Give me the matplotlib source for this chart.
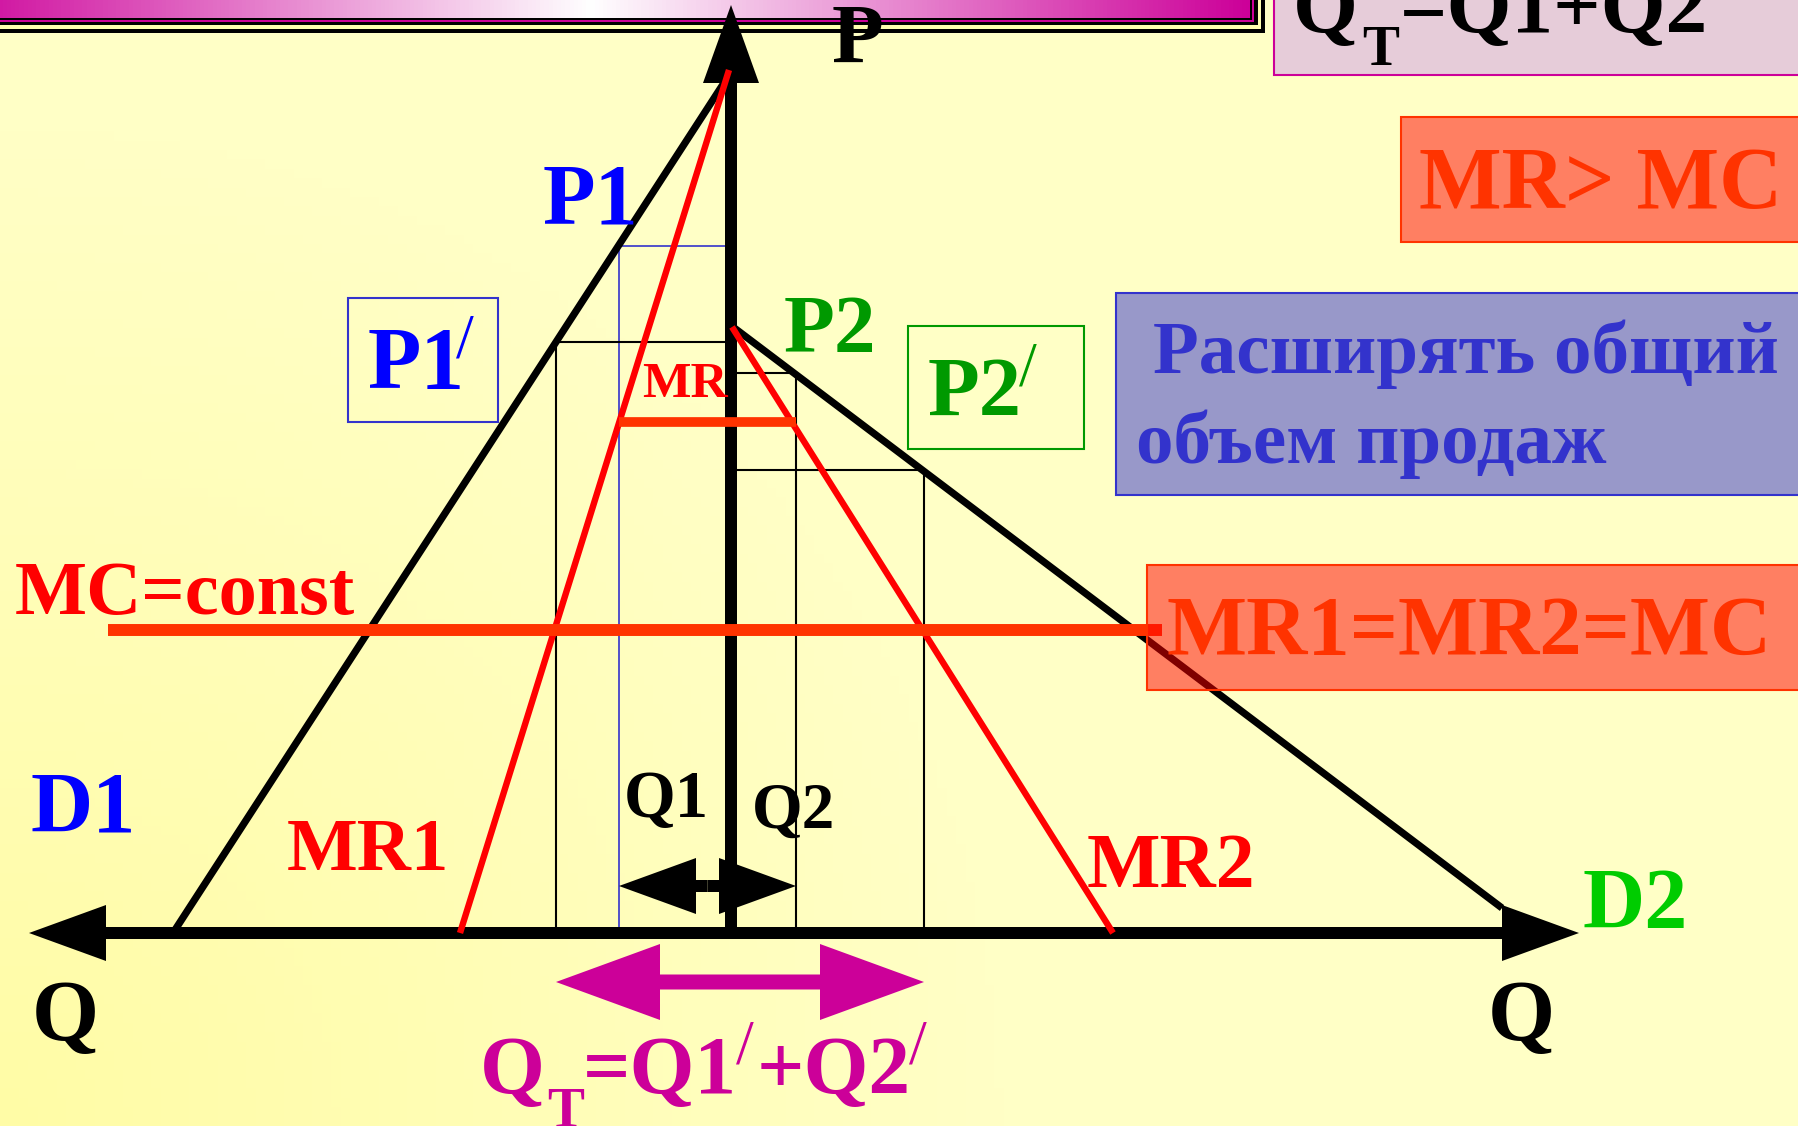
import numpy as np
import matplotlib
matplotlib.use("Agg")
import matplotlib.pyplot as plt
from matplotlib.patches import Rectangle, FancyArrow
from matplotlib.colors import to_rgb

plt.rcParams["font.family"] = ["Liberation Serif", "DejaVu Serif"]

# slide size in pixels, origin of the P/Q cross and pixels per diagram unit
W, H = 1799, 1126
X0, Y0, S = 731, 933, 10.0

# market 1 is drawn to the left of the price axis, market 2 to the right
d1_q = [-55.8, 0.0]
d1_p = [0.0, 86.1]
mr1_q = [-27.1, -0.2]
mr1_p = [0.0, 86.3]
d2_q = [0.2, 77.1]
d2_p = [60.6, 2.5]
mr2_q = [0.1, 38.2]
mr2_p = [60.6, 0.0]

mc_level = 30.3
mc_span = [-62.3, 43.1]

# starting point (Q1, Q2) and the point where MR1 = MR2 = MC
q1, p1 = -11.2, 68.7
q2, p2 = 6.5, 56.0
q1_new, p1_new = -17.5, 59.1
q2_new, p2_new = 19.3, 46.3
mr_level = 51.1

q_axis = [-70.2, 84.8]
p_axis_top = 92.8

BLUE = "#0000FF"
BLUE2 = "#3333CC"
GREEN = "#009900"
GREEN2 = "#00CC00"
RED = "#FF0000"
ORANGE = "#FF3300"
MAGENTA = "#CC0099"


def px(x, y):
    return (x - X0) / S, (Y0 - y) / S


def box(x0, y0, x1, y1, **kw):
    ax.add_patch(Rectangle(px(x0, y1), (x1 - x0) / S, (y1 - y0) / S, **kw))


def label(x, y, s, size, color, weight="bold", z=6):
    ax.text(*px(x, y), s, fontsize=size, color=color, fontweight=weight,
            ha="left", va="baseline", zorder=z)


def arrow(x, y, dx, dy, width, hw, hl, color, z=4):
    ax.add_patch(FancyArrow(x, y, dx, dy, width=width, head_width=hw,
                            head_length=hl, length_includes_head=True,
                            color=color, lw=0, zorder=z))


fig = plt.figure(figsize=(W / 100, H / 100), dpi=100)
ax = fig.add_axes([0, 0, 1, 1])
xl = (-X0 / S, (W - X0) / S)
yl = (-(H - Y0) / S, Y0 / S)
ax.set_xlim(*xl)
ax.set_ylim(*yl)
ax.axis("off")

# pale yellow background, a bit deeper towards the lower left corner
gy, gx = np.mgrid[0:1:120j, 0:1:190j]
t = np.clip(np.hypot(gx * W, (1 - gy) * H) / 1000, 0, 1)[..., None]
bg = np.array(to_rgb("#FFFCA6")) * (1 - t) + np.array(to_rgb("#FFFFC6")) * t
ax.imshow(bg, extent=(*xl, *yl), origin="upper", aspect="auto", zorder=0)

# title bar with its framed edge
for x1, y1, c in [(1265, 33, "black"), (1261, 29, "#FFFFB0"), (1258, 25, "black"),
                  (1254, 22, MAGENTA), (1252, 20, "black")]:
    box(-10, -10, x1, y1, facecolor=c, lw=0, zorder=1)
gxs = np.linspace(0, 1250, 300)
tt = np.clip(np.abs(gxs - 596) / 654, 0, 1)[None, :, None]
bar = np.array([1, 1, 1]) * (1 - tt) + np.array(to_rgb(MAGENTA)) * tt
l, top = px(-10, -10)
r, b = px(1250, 18)
ax.imshow(bar, extent=(l, r, b, top), aspect="auto", zorder=1.5)

# guide lines for the old and new quantities
ax.plot([q1, q1, 0], [0, p1, p1], color=BLUE2, lw=1.2, zorder=2)
for q, p in [(q1_new, p1_new), (q2, p2), (q2_new, p2_new)]:
    ax.plot([q, q, 0], [0, p, p], color="black", lw=1.5, zorder=2)

# axes
arrow(0, 0, q_axis[0], 0, 1.2, 5.6, 7.7, "black")
arrow(0, 0, q_axis[1], 0, 1.2, 5.6, 7.7, "black")
arrow(0, 0, 0, p_axis_top, 1.2, 5.6, 7.8, "black")

# demand and marginal revenue
ax.plot(d1_q, d1_p, color="black", lw=5.2, solid_capstyle="butt", zorder=4.5)
ax.plot(d2_q, d2_p, color="black", lw=5.2, solid_capstyle="butt", zorder=4.5)
ax.plot(mr1_q, mr1_p, color=RED, lw=4.6, solid_capstyle="butt", zorder=5)
ax.plot(mr2_q, mr2_p, color=RED, lw=4.6, solid_capstyle="butt", zorder=5)
ax.plot(mc_span, [mc_level, mc_level], color=ORANGE, lw=8.6,
        solid_capstyle="butt", zorder=5)
ax.plot([q1, q2], [mr_level, mr_level], color=ORANGE, lw=7,
        solid_capstyle="butt", zorder=5)

# quantity spans
mid = (q1 + q2) / 2
arrow(mid, 4.7, q1 - mid, 0, 1.2, 5.6, 7.7, "black")
arrow(mid, 4.7, q2 - mid, 0, 1.2, 5.6, 7.7, "black")
mid = (q1_new + q2_new) / 2
arrow(mid, -4.9, q1_new - mid, 0, 1.5, 7.6, 10.4, MAGENTA)
arrow(mid, -4.9, q2_new - mid, 0, 1.5, 7.6, 10.4, MAGENTA)

# boxes on the right
box(1274, -10, 1810, 75, facecolor="#E6CCD9", edgecolor=MAGENTA, lw=1.5, zorder=3)
box(1401, 117, 1810, 242, facecolor=(1, 0, 0, 0.5), edgecolor=ORANGE, lw=1.5, zorder=3)
box(1116, 293, 1810, 495, facecolor=(0.2, 0.2, 0.8, 0.5), edgecolor=BLUE2, lw=1.5, zorder=3)
box(1147, 565, 1810, 690, facecolor=(1, 0, 0, 0.5), edgecolor=ORANGE, lw=1.5, zorder=5.5)
box(348, 298, 498, 422, facecolor="none", edgecolor=BLUE2, lw=1.5, zorder=3)
box(908, 326, 1084, 449, facecolor="none", edgecolor=GREEN, lw=1.5, zorder=3)

# labels
label(1293, 32, "Q", 60, "black")
label(1362, 65, "T", 40, "black")
label(1400, 32, "=Q1+Q2", 60, "black")
label(1419, 208, "MR> MC", 63, ORANGE)
label(1153, 373, "Расширять общий", 54, BLUE2)
label(1136, 463, "объем продаж", 54, BLUE2)
label(1167, 655, "MR1=MR2=MC", 61, ORANGE)

label(832, 63, "P", 61, "black")
label(543, 224, "P1", 62, BLUE)
label(368, 388, "P1", 63, BLUE)
label(456, 358, "/", 46, BLUE, weight="normal")
label(642, 397, "MR", 37, RED)
label(784, 352, "P2", 60, GREEN)
label(928, 416, "P2", 61, GREEN)
label(1019, 386, "/", 46, GREEN, weight="normal")

label(15, 614, "MC=const", 55, RED)
label(31, 832, "D1", 62, BLUE)
label(287, 870, "MR1", 54, RED)
label(624, 817, "Q1", 48, "black")
label(752, 828, "Q2", 47, "black")
label(1087, 887, "MR2", 56, RED)
label(1583, 928, "D2", 62, GREEN2)
label(32, 1040, "Q", 62, "black")
label(1488, 1040, "Q", 62, "black")

label(480, 1093, "Q", 60, MAGENTA)
label(547, 1127, "T", 40, MAGENTA)
label(583, 1093, "=Q1", 60, MAGENTA)
label(736, 1063, "/", 46, MAGENTA, weight="normal")
label(757, 1093, "+Q2", 60, MAGENTA)
label(909, 1063, "/", 46, MAGENTA, weight="normal")

fig.savefig("out.png", dpi=100)
